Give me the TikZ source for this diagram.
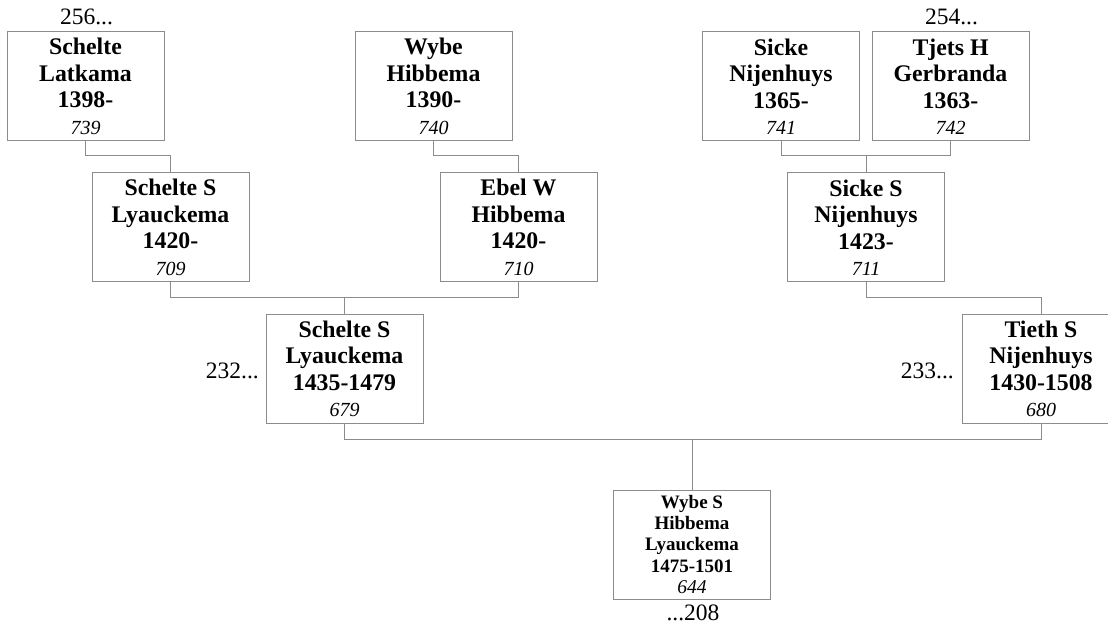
\documentclass[tikz,border=0pt]{standalone}
\usepackage{fontspec}
\setmainfont{Liberation Serif}
\definecolor{linegray}{RGB}{140,140,140}
\tikzset{
  person/.style={draw=linegray, line width=1pt, fill=white, minimum width=157pt, minimum height=109pt,
    align=center, inner sep=0pt, font=\bfseries\fontsize{23.8}{26.5}\selectfont},
  small/.style={person, font=\bfseries\fontsize{19}{21.3}\selectfont},
  conn/.style={draw=linegray, line width=1pt},
  ref/.style={inner sep=0pt, font=\fontsize{23.5}{26}\selectfont},
}
\newcommand{\idn}[1]{{\mdseries\itshape\fontsize{20}{24}\selectfont #1}}
\newcommand{\idm}[1]{{\mdseries\itshape\fontsize{19.5}{19}\selectfont #1}}
\begin{document}
\begin{tikzpicture}[x=1pt,y=-1pt]
\useasboundingbox (0,0) rectangle (1108,628);
\clip (0,0) rectangle (1108,628);
% generation 1
\node[person] (A) at (85.5,86.5) {Schelte\\Latkama\\1398-\\\idn{739}};
\node[person] (B) at (433.5,86.5) {Wybe\\Hibbema\\1390-\\\idn{740}};
\node[person] (C) at (781,86.5) {Sicke\\Nijenhuys\\1365-\\\idn{741}};
\node[person] (D) at (950.5,86.5) {Tjets H\\Gerbranda\\1363-\\\idn{742}};
% generation 2
\node[person] (E) at (170.5,227.5) {Schelte S\\Lyauckema\\1420-\\\idn{709}};
\node[person] (F) at (518.5,227.5) {Ebel W\\Hibbema\\1420-\\\idn{710}};
\node[person] (G) at (866,227.5) {Sicke S\\Nijenhuys\\1423-\\\idn{711}};
% generation 3
\node[person] (H) at (344.5,369) {Schelte S\\Lyauckema\\1435-1479\\\idn{679}};
\node[person] (I) at (1041,369) {Tieth S\\Nijenhuys\\1430-1508\\\idn{680}};
% generation 4
\node[small] (J) at (692,544.5) {Wybe S\\Hibbema\\Lyauckema\\1475-1501\\\idm{644}};
% continuation labels
\node[ref, anchor=base] (rA) at (86.5,25) {256...};
\node[ref, anchor=base] (rD) at (951.5,25) {254...};
\node[ref, anchor=base east] (rH) at (259,378) {232...};
\node[ref, anchor=base east] (rI) at (954,378) {233...};
\node[ref, anchor=base] (rJ) at (693,620) {...208};
% connectors
\draw[conn] (A.south) -- (A.south |- 0,156) -| (E.north);
\draw[conn] (B.south) -- (B.south |- 0,156) -| (F.north);
\draw[conn] (C.south) -- (C.south |- 0,156) -- (D.south |- 0,156) -- (D.south);
\draw[conn] (G.north) -- (G.north |- 0,156);
\draw[conn] (E.south) -- (E.south |- 0,298) -- (F.south |- 0,298) -- (F.south);
\draw[conn] (H.north) -- (H.north |- 0,298);
\draw[conn] (G.south) -- (G.south |- 0,298) -| (I.north);
\draw[conn] (H.south) -- (H.south |- 0,439) -- (I.south |- 0,439) -- (I.south);
\draw[conn] (J.north) -- (J.north |- 0,439);
\end{tikzpicture}
\end{document}
